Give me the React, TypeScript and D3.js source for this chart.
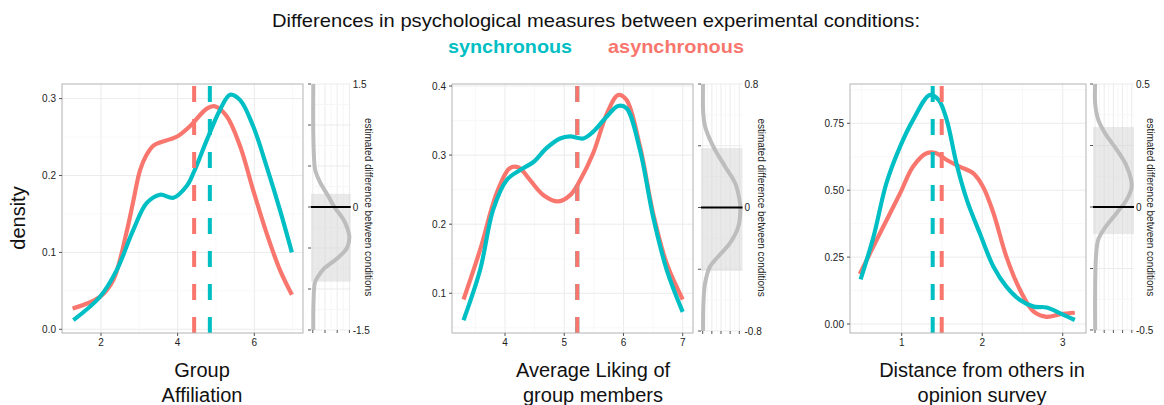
import React from 'react';
import * as d3 from 'd3';

const RED = '#F8766D';
const TEAL = '#00BFC4';

// ---------- Data ----------
const titleText = 'Differences in psychological measures between experimental conditions:';
const legendLabels = ['synchronous', 'asynchronous'];

// Panel 1: Group Affiliation
const p1AsyncX = [1.26, 1.97, 2.32, 2.67, 2.84, 3.02, 3.19, 3.37, 3.54, 3.8, 4.0, 4.32, 4.76, 4.97, 5.28, 5.63, 5.97, 6.32, 6.67, 6.98];
const p1AsyncY = [0.027, 0.042, 0.064, 0.127, 0.166, 0.207, 0.227, 0.239, 0.243, 0.247, 0.251, 0.264, 0.287, 0.29, 0.277, 0.238, 0.181, 0.125, 0.077, 0.045];
const p1SyncX = [1.28, 1.97, 2.41, 2.84, 3.19, 3.54, 3.89, 4.23, 4.41, 4.76, 5.10, 5.37, 5.63, 5.97, 6.32, 6.67, 6.98];
const p1SyncY = [0.012, 0.042, 0.077, 0.129, 0.164, 0.175, 0.171, 0.186, 0.203, 0.246, 0.285, 0.305, 0.298, 0.264, 0.212, 0.155, 0.10];
const p1Means = [4.84, 4.43]; // sync, async
const p1DiffY = [1.5, 0.9, 0.6, 0.45, 0.3, 0.13, 0.01, -0.15, -0.28, -0.37, -0.5, -0.6, -0.66, -0.76, -0.84, -0.92, -1.15, -1.5];
const p1DiffD = [0.02, 0.02, 0.05, 0.1, 0.3, 0.64, 0.86, 1.25, 1.44, 1.5, 1.4, 1.1, 0.86, 0.43, 0.23, 0.09, 0.03, 0.02];
const p1Ci = [-0.91, 0.16];

// Panel 2: Average Liking of group members
const p2AsyncX = [3.30, 3.58, 3.86, 4.08, 4.23, 4.42, 4.65, 4.90, 5.10, 5.27, 5.49, 5.72, 5.91, 6.05, 6.28, 6.50, 6.73, 7.0];
const p2AsyncY = [0.091, 0.163, 0.245, 0.281, 0.282, 0.264, 0.242, 0.233, 0.242, 0.264, 0.303, 0.36, 0.387, 0.38, 0.312, 0.216, 0.143, 0.091];
const p2SyncX = [3.30, 3.58, 3.80, 4.03, 4.25, 4.48, 4.70, 4.93, 5.10, 5.32, 5.49, 5.72, 5.91, 6.05, 6.28, 6.50, 6.73, 7.0];
const p2SyncY = [0.061, 0.134, 0.221, 0.264, 0.278, 0.29, 0.31, 0.324, 0.327, 0.324, 0.334, 0.356, 0.371, 0.368, 0.307, 0.211, 0.134, 0.073];
const p2Means = [5.22, 5.22];
const p2DiffY = [0.8, 0.61, 0.525, 0.395, 0.266, 0.158, 0.028, -0.015, -0.123, -0.231, -0.317, -0.382, -0.49, -0.62, -0.8];
const p2DiffD = [0.02, 0.03, 0.13, 0.58, 1.22, 1.77, 2.04, 2.06, 1.95, 1.49, 0.85, 0.4, 0.13, 0.04, 0.02];
const p2Ci = [-0.41, 0.385];

// Panel 3: Distance from others in opinion survey
const p3AsyncX = [0.48, 0.73, 0.98, 1.14, 1.31, 1.43, 1.56, 1.72, 1.89, 2.01, 2.14, 2.30, 2.47, 2.64, 2.80, 2.97, 3.15];
const p3AsyncY = [0.187, 0.339, 0.488, 0.588, 0.638, 0.638, 0.613, 0.588, 0.563, 0.513, 0.414, 0.252, 0.127, 0.046, 0.027, 0.037, 0.042];
const p3SyncX = [0.49, 0.65, 0.81, 0.98, 1.14, 1.35, 1.46, 1.56, 1.68, 1.81, 1.97, 2.14, 2.30, 2.47, 2.64, 2.80, 2.97, 3.15];
const p3SyncY = [0.167, 0.326, 0.526, 0.663, 0.762, 0.856, 0.837, 0.762, 0.60, 0.463, 0.339, 0.214, 0.14, 0.09, 0.065, 0.062, 0.04, 0.015];
const p3Means = [1.385, 1.497];
const p3DiffY = [0.5, 0.42, 0.354, 0.30, 0.233, 0.165, 0.084, 0.03, -0.024, -0.084, -0.132, -0.2, -0.5];
const p3DiffD = [0.02, 0.02, 0.36, 1.09, 2.36, 3.45, 3.99, 3.45, 2.36, 1.09, 0.36, 0.11, 0.02];
const p3Ci = [-0.11, 0.325];

const p1XTicks = [2, 4, 6];
const p1YTicks = [0, 0.1, 0.2, 0.3];
const p2XTicks = [4, 5, 6, 7];
const p2YTicks = [0.1, 0.2, 0.3, 0.4];
const p3XTicks = [1, 2, 3];
const p3YTicks = [0, 0.25, 0.5, 0.75];

const p1Label = ['Group', 'Affiliation'];
const p2Label = ['Average Liking of', 'group members'];
const p3Label = ['Distance from others in', 'opinion survey'];
const sideTitle = 'estimated difference between conditions';

// ---------- Layout ----------
const TOP = 84;
const BOTTOM = 333;

const panels = [
  {
    main: { left: 62, right: 303, xDomain: [0.983, 7.27], yDomain: [-0.0048, 0.319], xTicks: p1XTicks, yTicks: p1YTicks, xStep: 1, yStep: 0.05, fmt: d3.format('.1f') },
    async: [p1AsyncX, p1AsyncY], sync: [p1SyncX, p1SyncY], means: p1Means,
    side: { left: 311, right: 350.7, bottom: 330, dDomain: [-0.074, 1.554], dTicks: [0, 0.5, 1, 1.5], yDomain: [-1.5, 1.5], yTicks: [-1.5, -1, -0.5, 0, 0.5, 1, 1.5], labels: ['1.5', '0', '-1.5'], titleX: 368 },
    diff: [p1DiffY, p1DiffD], ci: p1Ci, label: p1Label, labelX: 202,
  },
  {
    main: { left: 452, right: 693, xDomain: [3.105, 7.174], yDomain: [0.0425, 0.4029], xTicks: p2XTicks, yTicks: p2YTicks, xStep: 0.5, yStep: 0.05, fmt: d3.format('.1f') },
    async: [p2AsyncX, p2AsyncY], sync: [p2SyncX, p2SyncY], means: p2Means,
    side: { left: 701, right: 742.5, bottom: 331, dDomain: [-0.093, 2.175], dTicks: [0, 0.5, 1, 1.5, 2], yDomain: [-0.8, 0.8], yTicks: [-0.8, -0.4, 0, 0.4, 0.8], labels: ['0.8', '0', '-0.8'], titleX: 761.5 },
    diff: [p2DiffY, p2DiffD], ci: p2Ci, label: p2Label, labelX: 593,
  },
  {
    main: { left: 850, right: 1086, xDomain: [0.358, 3.289], yDomain: [-0.0336, 0.8969], xTicks: p3XTicks, yTicks: p3YTicks, xStep: 0.5, yStep: 0.125, fmt: d3.format('.2f') },
    async: [p3AsyncX, p3AsyncY], sync: [p3SyncX, p3SyncY], means: p3Means,
    side: { left: 1093, right: 1134, bottom: 330, dDomain: [-0.217, 4.24], dTicks: [0, 1, 2, 3, 4], yDomain: [-0.5, 0.5], yTicks: [-0.5, -0.25, 0, 0.25, 0.5], labels: ['0.5', '0', '-0.5'], titleX: 1150 },
    diff: [p3DiffY, p3DiffD], ci: p3Ci, label: p3Label, labelX: 982,
  },
];

const FONT = '"Liberation Sans", Arial, Helvetica, sans-serif';
const GRID_MAJOR = '#ebebeb';
const GRID_MINOR = '#f6f6f6';
const TXT = '#222';

function range(a: number, b: number, step: number) {
  const out: number[] = [];
  const n = Math.round((b - a) / step);
  for (let i = 0; i <= n; i++) out.push(+(a + i * step).toFixed(6));
  return out;
}

function Panel({ p }: { p: any }) {
  const m = p.main;
  const x = d3.scaleLinear().domain(m.xDomain).range([m.left, m.right]);
  const y = d3.scaleLinear().domain(m.yDomain).range([BOTTOM, TOP]);
  const line = d3.line<[number, number]>().x(d => x(d[0])).y(d => y(d[1])).curve(d3.curveCatmullRom.alpha(0.5));
  const toPts = (a: number[][]) => a[0].map((v, i) => [v, a[1][i]] as [number, number]);

  const xGrid = range(Math.ceil(m.xDomain[0] / m.xStep) * m.xStep, Math.floor(m.xDomain[1] / m.xStep) * m.xStep, m.xStep);
  const yGrid = range(Math.ceil(m.yDomain[0] / m.yStep) * m.yStep, Math.floor(m.yDomain[1] / m.yStep) * m.yStep, m.yStep);
  const isMajor = (v: number, ticks: number[]) => ticks.some(t => Math.abs(t - v) < 1e-6);

  const s = p.side;
  const sx = d3.scaleLinear().domain(s.dDomain).range([s.left, s.right]);
  const sy = d3.scaleLinear().domain(s.yDomain).range([s.bottom, TOP]);
  const sLine = d3.line<[number, number]>().x(d => sx(d[1])).y(d => sy(d[0])).curve(d3.curveCatmullRom.alpha(0.5));
  const diffPts = p.diff[0].map((v: number, i: number) => [v, p.diff[1][i]] as [number, number]);
  const dStep = (s.dTicks[1] - s.dTicks[0]) / 2;
  const sxGrid = range(Math.ceil(s.dDomain[0] / dStep) * dStep, Math.floor(s.dDomain[1] / dStep) * dStep, dStep);
  const yStepS = (s.yTicks[1] - s.yTicks[0]) / 2;
  const syGrid = range(s.yDomain[0], s.yDomain[1], yStepS);

  const vTop = TOP, vBot = BOTTOM;

  return (
    <g>
      {/* main panel grid */}
      {xGrid.map(v => (
        <line key={'xg' + v} x1={x(v)} x2={x(v)} y1={TOP} y2={BOTTOM} stroke={isMajor(v, m.xTicks) ? GRID_MAJOR : GRID_MINOR} strokeWidth={isMajor(v, m.xTicks) ? 1 : 0.8} />
      ))}
      {yGrid.map(v => (
        <line key={'yg' + v} x1={m.left} x2={m.right} y1={y(v)} y2={y(v)} stroke={isMajor(v, m.yTicks) ? GRID_MAJOR : GRID_MINOR} strokeWidth={isMajor(v, m.yTicks) ? 1 : 0.8} />
      ))}
      {/* density curves */}
      <path d={line(toPts(p.async)) || ''} fill="none" stroke={RED} strokeWidth={4.2} strokeLinecap="butt" strokeLinejoin="round" />
      <path d={line(toPts(p.sync)) || ''} fill="none" stroke={TEAL} strokeWidth={4.2} strokeLinecap="butt" strokeLinejoin="round" />
      {/* means */}
      <line x1={x(p.means[0])} x2={x(p.means[0])} y1={vBot} y2={vTop} stroke={TEAL} strokeWidth={4} strokeDasharray="16 17" />
      <line x1={x(p.means[1])} x2={x(p.means[1])} y1={vBot} y2={vTop} stroke={RED} strokeWidth={4} strokeDasharray="16 17" />
      {/* border */}
      <rect x={m.left} y={TOP} width={m.right - m.left} height={BOTTOM - TOP} fill="none" stroke="#b3b3b3" strokeWidth={1} />
      {/* axes ticks */}
      {m.xTicks.map((v: number) => (
        <g key={'xt' + v}>
          <line x1={x(v)} x2={x(v)} y1={BOTTOM} y2={BOTTOM + 3} stroke="#555" strokeWidth={1} />
          <text x={x(v)} y={BOTTOM + 13} textAnchor="middle" fontSize={10} fontFamily={FONT} fill={TXT}>{v}</text>
        </g>
      ))}
      {m.yTicks.map((v: number) => (
        <g key={'yt' + v}>
          <line x1={m.left - 3} x2={m.left} y1={y(v)} y2={y(v)} stroke="#555" strokeWidth={1} />
          <text x={m.left - 6} y={y(v)} dy="0.35em" textAnchor="end" fontSize={10} fontFamily={FONT} fill={TXT}>{m.fmt(v)}</text>
        </g>
      ))}

      {/* side panel */}
      {sxGrid.map(v => (
        <line key={'sxg' + v} x1={sx(v)} x2={sx(v)} y1={TOP} y2={s.bottom} stroke={isMajor(v, s.dTicks) ? GRID_MAJOR : GRID_MINOR} strokeWidth={1} />
      ))}
      {syGrid.map(v => (
        <line key={'syg' + v} x1={s.left} x2={s.right} y1={sy(v)} y2={sy(v)} stroke={isMajor(v, s.yTicks) ? GRID_MAJOR : GRID_MINOR} strokeWidth={1} />
      ))}
      <rect x={s.left} y={sy(p.ci[1])} width={s.right - s.left} height={sy(p.ci[0]) - sy(p.ci[1])} fill="#d4d4d4" fillOpacity={0.5} />
      <path d={sLine(diffPts) || ''} fill="none" stroke="#bdbdbd" strokeWidth={4} strokeLinejoin="round" />
      <line x1={s.left} x2={s.right} y1={sy(0)} y2={sy(0)} stroke="#000" strokeWidth={2} />
      {s.yTicks.map((v: number) => (
        <line key={'syt' + v} x1={s.left - 3} x2={s.left} y1={sy(v)} y2={sy(v)} stroke="#555" strokeWidth={1} />
      ))}
      {s.dTicks.map((v: number) => (
        <line key={'sdt' + v} x1={sx(v)} x2={sx(v)} y1={s.bottom} y2={s.bottom + 3} stroke="#555" strokeWidth={1} />
      ))}
      {[s.yDomain[1], 0, s.yDomain[0]].map((v: number, i: number) => (
        <text key={'sl' + i} x={s.right + 2} y={sy(v)} dy="0.35em" fontSize={10} fontFamily={FONT} fill={TXT}>{s.labels[i]}</text>
      ))}
      <text transform={`translate(${s.titleX},${(TOP + s.bottom) / 2}) rotate(90)`} textAnchor="middle" dy="0.35em" fontSize={10} fontFamily={FONT} fill={TXT}>{sideTitle}</text>

      {/* panel label */}
      <text x={p.labelX} y={377} textAnchor="middle" fontSize={20} fontFamily={FONT} fill="#111">{p.label[0]}</text>
      <text x={p.labelX} y={402} textAnchor="middle" fontSize={20} fontFamily={FONT} fill="#111">{p.label[1]}</text>
    </g>
  );
}

export default function App() {
  return (
    <svg width={1164} height={405} style={{ position: 'absolute', left: 0, top: 0, background: '#fff' }}>
      <rect x={0} y={0} width={1164} height={405} fill="#fff" />
      <text x={272} y={27} fontSize={19} fontFamily={FONT} fill="#111" textLength={648} lengthAdjust="spacingAndGlyphs">{titleText}</text>
      <text x={448} y={53} fontSize={19} fontWeight="bold" fontFamily={FONT} fill={TEAL} textLength={124} lengthAdjust="spacingAndGlyphs">{legendLabels[0]}</text>
      <text x={608} y={53} fontSize={19} fontWeight="bold" fontFamily={FONT} fill={RED} textLength={136} lengthAdjust="spacingAndGlyphs">{legendLabels[1]}</text>
      <text transform="translate(18,218) rotate(-90)" textAnchor="middle" dy="0.35em" fontSize={20} fontFamily={FONT} fill="#111">density</text>
      {panels.map((p, i) => <Panel key={i} p={p} />)}
    </svg>
  );
}
